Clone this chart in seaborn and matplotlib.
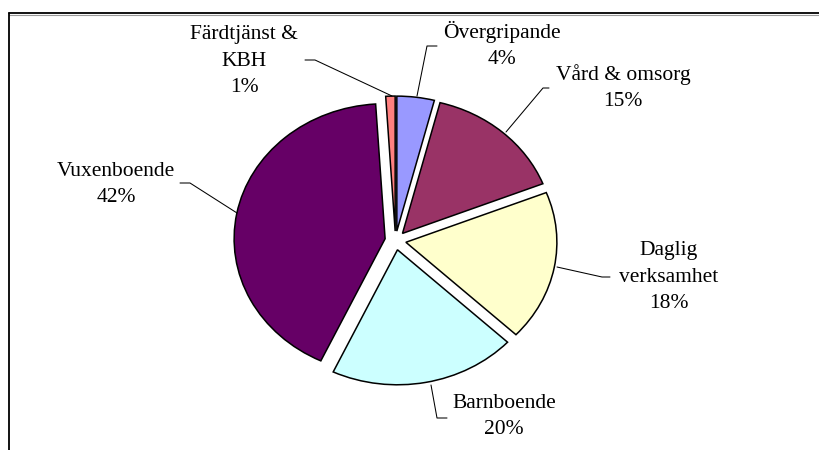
import matplotlib
matplotlib.use("Agg")
import matplotlib.pyplot as plt
import seaborn as sns
from matplotlib.lines import Line2D

sns.set_theme(style="white")
plt.rcParams['font.family'] = ['Liberation Serif', 'DejaVu Serif']

categories = ["Övergripande", "Vård & omsorg", "Daglig verksamhet",
              "Barnboende", "Vuxenboende", "Färdtjänst & KBH"]
values = [4, 15, 18, 20, 42, 1]
colors = ["#9999FF", "#993366", "#FFFFCC", "#CCFFFF", "#660066", "#FF8080"]
label_texts = ["Övergripande\n4%", "Vård & omsorg\n15%", "Daglig\nverksamhet\n18%",
               "Barnboende\n20%", "Vuxenboende\n42%", "Färdtjänst &\nKBH\n1%"]

W, H = 820, 450
fig = plt.figure(figsize=(W / 100, H / 100), dpi=100)
fig.patch.set_facecolor("white")
ax = fig.add_axes([0, 0, 1, 1])

yscale = 0.894  # vertical squash of the pie (elliptic, as in the original)
R = 151
cx, cy = 395.5, (H - 240.5) / yscale
ax.pie(values, colors=colors, startangle=90, counterclock=False,
       explode=[0.07 * R] * len(values), radius=R, center=(cx, cy),
       wedgeprops=dict(edgecolor="black", linewidth=1.1), frame=False)
ax.set_aspect("auto")
ax.set_xlim(0, W)
ax.set_ylim(0, H / yscale)
ax.axis("off")

# label placement (pixel layout) and leader lines
label_pos = [(502, 45), (623, 88), (669, 277), (504, 417), (116, 184), (244, 61)]
leaders = [
    [(437, 46), (427, 46), (417, 96)],
    [(549, 88), (543, 88), (506, 132)],
    [(557, 267), (602, 277), (610, 277)],
    [(431, 385), (437, 418), (447, 418)],
    [(180, 183), (190, 183), (237, 213)],
    [(305, 60), (315, 60), (392, 96)],
]

for txt, pos, pts in zip(label_texts, label_pos, leaders):
    fig.text(pos[0] / W, 1 - pos[1] / H, txt, ha="center", va="center",
             multialignment="center", fontsize=15.5, color="black",
             linespacing=1.5)
    xs = [p[0] / W for p in pts]
    ys = [1 - p[1] / H for p in pts]
    fig.add_artist(Line2D(xs, ys, color="black", linewidth=0.75,
                          transform=fig.transFigure))

# chart frame (top and left edges visible)
fig.add_artist(Line2D([9 / W, 1], [1 - 14.5 / H, 1 - 14.5 / H], color="#999999",
                      linewidth=0.8, transform=fig.transFigure))
fig.add_artist(Line2D([9 / W, 1], [1 - 13 / H, 1 - 13 / H], color="black",
                      linewidth=1.3, transform=fig.transFigure))
fig.add_artist(Line2D([9 / W, 9 / W], [0, 1 - 13 / H], color="black",
                      linewidth=1.3, transform=fig.transFigure))

fig.savefig("out.png", dpi=100, facecolor="white")
